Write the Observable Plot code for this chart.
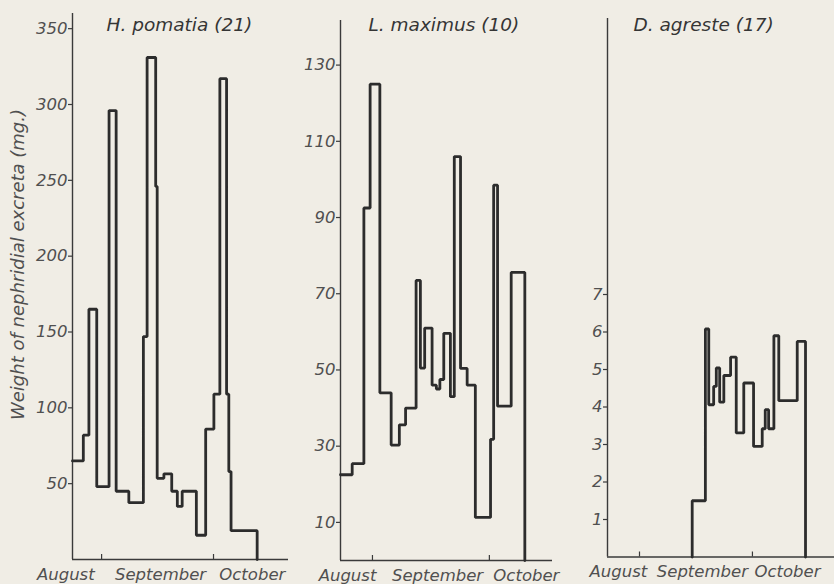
<!DOCTYPE html>
<html><head><meta charset="utf-8">
<script src="https://cdn.jsdelivr.net/npm/d3@7"></script>
<script src="https://cdn.jsdelivr.net/npm/@observablehq/plot@0.6"></script>
<style>
html,body{margin:0;padding:0;background:#f0ede5;}
#wrap{position:relative;width:834px;height:584px;overflow:hidden;background:#f0ede5;}
#wrap svg{position:absolute;top:0;overflow:visible;}
</style></head>
<body><div id="wrap"></div>
<script>
// Days counted from 1 August (day 31 = 1 September, day 61 = 1 October)
const monthStarts = [31, 61];
const monthNames = ["August", "September", "October"];

// H. pomatia (21)
const pomatiaDay = [23.2, 26.1, 27.6, 29.7, 33.0, 34.9, 38.3, 42.2, 43.2, 45.5, 45.9, 47.7, 49.8, 51.3, 52.6, 56.4, 58.9, 61.1, 62.7, 64.5, 65.1, 65.7, 72.7];
const pomatiaMg  = [65, 82, 165, 48, 296, 45, 37.5, 147, 331, 246, 53.5, 56.5, 45, 35, 45, 16, 86, 109, 317, 109, 58, 19, 0];
const pomatiaTicks = [50, 100, 150, 200, 250, 300, 350];
const pomatiaMonthAt = [21.4, 46.8, 71.4];

// L. maximus (10)
const maximusDay = [22.8, 25.8, 28.8, 30.4, 32.9, 35.8, 37.9, 39.5, 42.2, 43.3, 44.4, 46.3, 47.4, 48.3, 49.3, 51.0, 52.0, 53.6, 55.3, 57.4, 61.3, 62.1, 63.1, 66.6, 70.1];
const maximusMg  = [22.5, 25.4, 92.5, 125, 44, 30.3, 35.6, 40, 73.5, 50.5, 61, 46, 45, 47.5, 59.6, 43, 106, 50.4, 46, 11.3, 31.8, 98.5, 40.5, 75.6, 0];
const maximusTicks = [10, 30, 50, 70, 90, 110, 130];
const maximusMonthAt = [24.6, 47.7, 70.5];

// D. agreste (17)
const agresteDay = [45.0, 45.0, 48.5, 49.4, 50.7, 51.4, 52.3, 53.4, 55.2, 56.7, 58.7, 61.3, 63.6, 64.4, 65.3, 66.7, 68.0, 72.9, 75.1];
const agresteMg  = [0, 1.5, 6.08, 4.06, 4.55, 5.04, 4.13, 4.84, 5.33, 3.31, 4.64, 2.95, 3.42, 3.93, 3.42, 5.9, 4.17, 5.75, 0];
const agresteTicks = [1, 2, 3, 4, 5, 6, 7];
const agresteMonthAt = [25.4, 47.7, 70.3];

const yLabel = "Weight of nephridial excreta (mg.)";
const titles = ["H. pomatia (21)", "L. maximus (10)", "D. agreste (17)"];

const FONT = "DejaVu Sans, sans-serif";
const INK = "#2c2c2c";
const TXT = "#505050";

const panels = [
  {title: titles[0], days: pomatiaDay, mg: pomatiaMg, ticks: pomatiaTicks, monthAt: pomatiaMonthAt,
   left: 0, width: 300, ml: 72, mr: 12, mt: 13, mb: 25, xd: [23.2, 81.1], yd: [0, 360], titleDx: 106, ylab: true},
  {title: titles[1], days: maximusDay, mg: maximusMg, ticks: maximusTicks, monthAt: maximusMonthAt,
   left: 290, width: 270, ml: 50, mr: 8, mt: 20, mb: 24, xd: [22.8, 77.2], yd: [0, 141.7], titleDx: 78},
  {title: titles[2], days: agresteDay, mg: agresteMg, ticks: agresteTicks, monthAt: agresteMonthAt,
   left: 560, width: 274, ml: 47, mr: 0, mt: 18, mb: 27.5, xd: [22.5, 82.8], yd: [0, 14.36], titleDx: 73}
];

const wrap = document.getElementById("wrap");
for (const p of panels) {
  const data = p.days.map((d, i) => ({day: d, mg: p.mg[i]}));
  const months = p.monthAt.map((d, i) => ({day: d, name: monthNames[i]}));
  const plotH = 584 - p.mt - p.mb;
  const tickLen = 5 * (p.yd[1] - p.yd[0]) / plotH;
  const marks = [
    Plot.ruleX([p.xd[0]], {stroke: "#3a3a3a", strokeWidth: 1.4}),
    Plot.ruleY([0], {stroke: "#3a3a3a", strokeWidth: 1.4}),
    Plot.ruleX(monthStarts, {y1: 0, y2: tickLen, stroke: "#3a3a3a", strokeWidth: 1.2}),
    Plot.axisY({ticks: p.ticks, label: null, tickSize: 4, tickPadding: 1, tickFormat: d => String(d),
      fontSize: 16.5, fontStyle: "italic", fill: TXT, stroke: "#3a3a3a", strokeWidth: 1.2}),
    Plot.text(months, {x: "day", text: "name", frameAnchor: "bottom", dy: 15, lineAnchor: "middle",
      fontSize: 16.5, fontStyle: "italic", fill: TXT}),
    Plot.line(data, {x: "day", y: "mg", curve: "step-after", stroke: INK, strokeWidth: 2.8, strokeLinejoin: "miter"}),
    Plot.text([p.title], {frameAnchor: "top-left", dx: p.titleDx - p.ml, dy: 25 - p.mt, textAnchor: "start",
      lineAnchor: "middle", fontSize: 18.5, fontStyle: "italic", fill: "#353535"})
  ];
  if (p.ylab) {
    marks.push(Plot.text([yLabel], {frameAnchor: "left", dx: 18 - p.ml, dy: -22, rotate: -90,
      lineAnchor: "middle", textAnchor: "middle", fontSize: 18, fontStyle: "italic", fill: TXT}));
  }
  const svg = Plot.plot({
    width: p.width, height: 584,
    marginLeft: p.ml, marginRight: p.mr, marginTop: p.mt, marginBottom: p.mb,
    x: {domain: p.xd, axis: null},
    y: {domain: p.yd, axis: null},
    style: {background: "transparent", fontFamily: FONT, overflow: "visible"},
    marks
  });
  svg.style.left = p.left + "px";
  wrap.appendChild(svg);
}
</script>
</body></html>
